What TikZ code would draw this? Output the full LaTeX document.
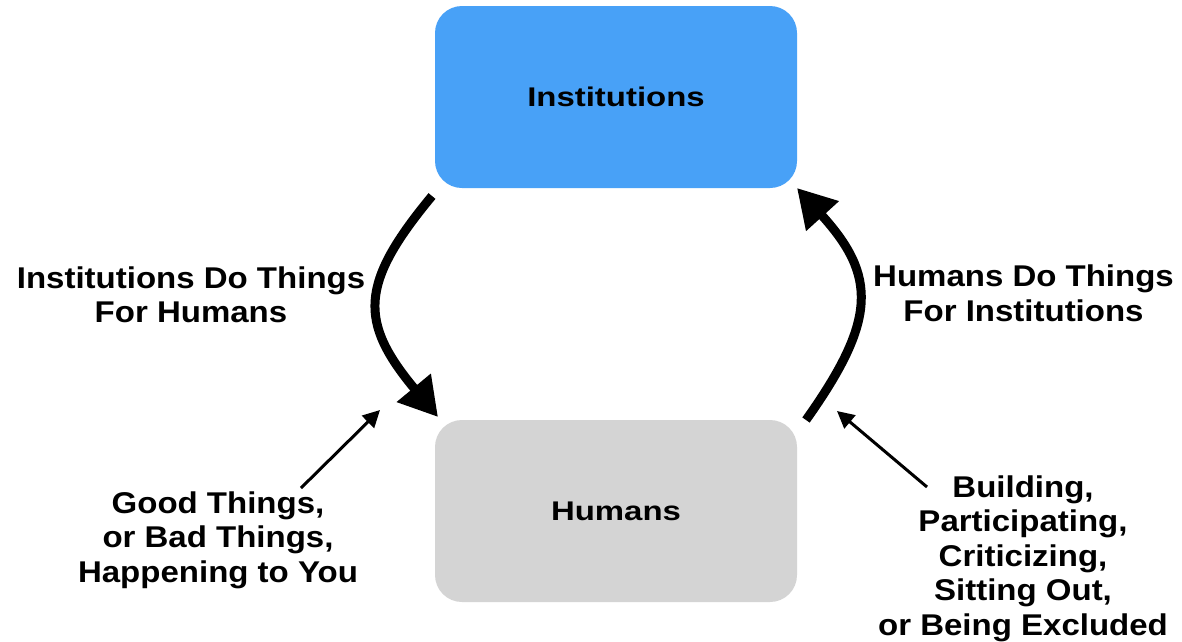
\documentclass[tikz,border=0pt]{standalone}
\usepackage{fontspec}
\setmainfont{Liberation Sans}[FakeStretch=1.1]
\newfontfamily\boxfont{Liberation Sans}[FakeStretch=1.22]
\usetikzlibrary{arrows.meta}
\definecolor{instblue}{RGB}{72,161,247}
\definecolor{humgray}{RGB}{212,212,212}
\begin{document}
\begin{tikzpicture}[x=1pt,y=-1pt,
  box/.style={rounded corners=27pt, minimum width=362pt, minimum height=182pt, inner sep=0pt,
    font=\boxfont\bfseries\fontsize{27}{32}\selectfont, text=black},
  lbl/.style={align=center, inner sep=0pt, anchor=north,
    font=\bfseries\fontsize{30}{34.5}\selectfont},
  bigarrow/.style={line width=9pt, -{Triangle[length=38pt,width=42pt]}},
  thinarrow/.style={line width=3pt, -{Triangle[length=17pt,width=17pt]}}]
\useasboundingbox (0,0) rectangle (1182,641);
\fill[white] (0,0) rectangle (1182,641);

\node[box, fill=instblue] (inst) at (616,97) {Institutions};
\node[box, fill=humgray] (hum) at (616,511) {Humans};

\node[lbl] (ldo) at (191,266.5) {Institutions Do Things\\For Humans};
\node[lbl] (rdo) at (1023.5,265) {Humans Do Things\\For Institutions};
\node[lbl] (lgood) at (218,491.5) {Good Things,\\or Bad Things,\\Happening to You};
\node[lbl] (rbuild) at (1023,475.5) {Building,\\Participating,\\Criticizing,\\Sitting Out,\\or Being Excluded};

\coordinate (la) at (432,196);
\coordinate (lb) at (438,417);
\coordinate (ra) at (806,420);
\coordinate (rb) at (797,188);
\coordinate (lt) at (380,410);
\coordinate (lg) at (301,488);
\coordinate (rt) at (837,411);
\coordinate (rg) at (927,487);

\draw[bigarrow] (la) .. controls (359,284) and (359,322) .. (lb);
\draw[bigarrow] (ra) .. controls (877,320) and (877,276) .. (rb);
\draw[thinarrow] (lg) -- (lt);
\draw[thinarrow] (rg) -- (rt);
\end{tikzpicture}
\end{document}
